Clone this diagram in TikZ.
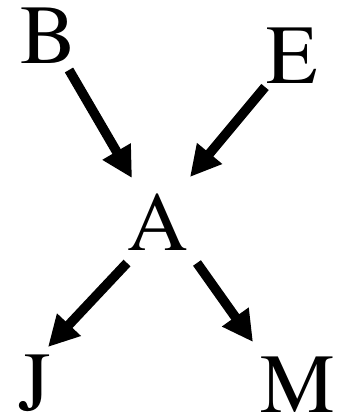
\documentclass[tikz,border=0pt]{standalone}
\usepackage[T1]{fontenc}
\usepackage{times}
\usetikzlibrary{arrows.meta}

\begin{document}
\begin{tikzpicture}[x=0.75pt,y=0.75pt,
        var/.style={inner sep=0pt,anchor=base,font=\fontsize{63}{70}\selectfont},
        dep/.style={-{Triangle[length=23pt,width=23pt]},line width=7.2pt}]
        \useasboundingbox (0,0) rectangle (338,419);
        \node[var] (B) at (49,355) {B};
        \node[var] (E) at (292,335) {E};
        \node[var] (A) at (158,169) {A};
        \node[var] (J) at (35,8) {J};
        \node[var] (M) at (298,7) {M};
        \draw[dep] ([shift={(20,-6)}]B.base) -- ([shift={(-26,72)}]A.base);
        \draw[dep] ([shift={(-27,-3)}]E.base) -- ([shift={(32,73)}]A.base);
        \draw[dep] ([shift={(-31,-13)}]A.base) -- ([shift={(13,64)}]J.base);
        \draw[dep] ([shift={(39,-13)}]A.base) -- ([shift={(-45,70)}]M.base);
    \end{tikzpicture}
\end{document}
